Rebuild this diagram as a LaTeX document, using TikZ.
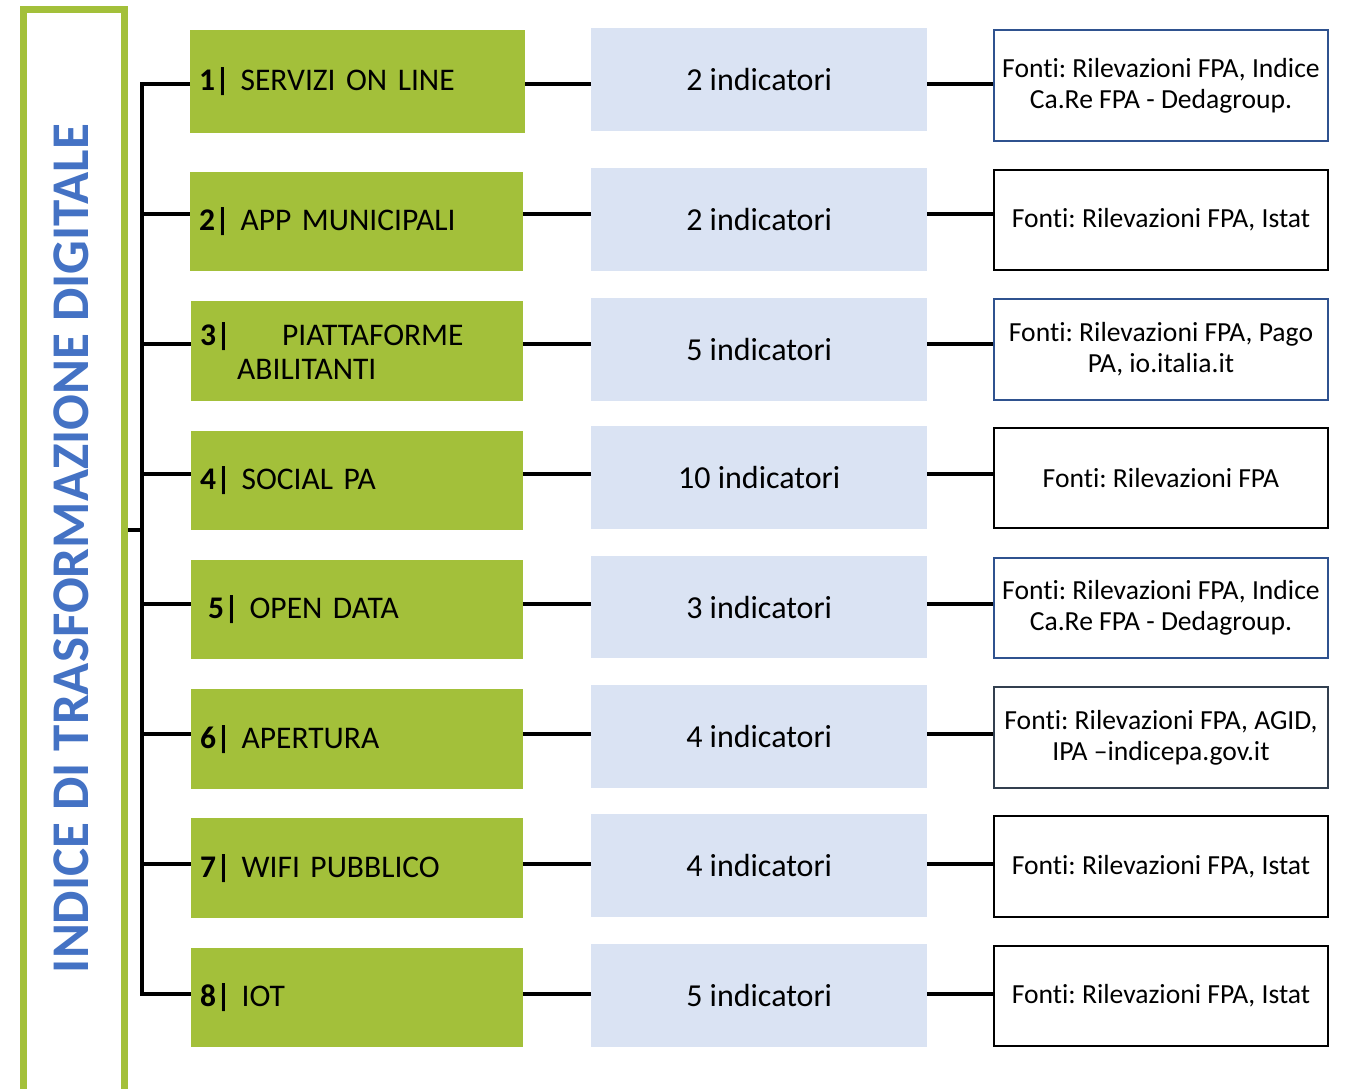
\documentclass[tikz,border=0pt]{standalone}
\usepackage{fontspec}
\setmainfont{Carlito}[Ligatures=NoCommon]
\frenchspacing
\definecolor{fgreen}{HTML}{A3C03A}
\definecolor{tblue}{HTML}{4472C4}
\definecolor{lblue}{HTML}{DAE3F3}
\definecolor{bblue}{HTML}{2F528F}
\definecolor{dgray}{HTML}{323F4F}
\newcommand{\gboxfont}{\fontsize{31.5}{34}\selectfont\spaceskip=7.2pt plus 2pt minus 1pt\relax}
\begin{document}
\begin{tikzpicture}[x=1pt,y=-1pt,
  conn/.style={line width=3.2pt,black},
  gbox/.style={rectangle,fill=fgreen,anchor=north west,inner xsep=9pt,inner ysep=0pt,
    align=left,font=\gboxfont},
  mbox/.style={rectangle,fill=lblue,anchor=north west,inner sep=0pt,align=center,
    minimum width=336pt,font=\fontsize{32}{34}\selectfont},
  rbox/.style={rectangle,draw=black,line width=2pt,fill=white,anchor=north west,inner sep=0pt,
    align=center,minimum width=334pt,font=\fontsize{27.6}{31}\selectfont},
]
\clip (0,0) rectangle (1345,1089);
\fill[white] (0,0) rectangle (1345,1089);

% green boxes
\node[gbox,minimum width=335pt,text width=317pt,minimum height=103pt] (g1) at (190,30) {\textbf{1|} SERVIZI ON LINE};
\node[gbox,minimum width=333pt,text width=315pt,minimum height=99pt] (g2) at (190,172) {\textbf{2|} APP MUNICIPALI};
\node[gbox,minimum width=332pt,text width=314pt,minimum height=100pt] (g3) at (191,301) {\makebox[37pt][l]{\textbf{3|}}\hspace{45pt}PIATTAFORME\\\hspace*{37pt}ABILITANTI};
\node[gbox,minimum width=332pt,text width=314pt,minimum height=99pt] (g4) at (191,431) {\textbf{4|} SOCIAL PA};
\node[gbox,minimum width=332pt,text width=314pt,minimum height=99pt] (g5) at (191,560) {\hspace*{8pt}\textbf{5|} OPEN DATA};
\node[gbox,minimum width=332pt,text width=314pt,minimum height=100pt] (g6) at (191,689) {\textbf{6|} APERTURA};
\node[gbox,minimum width=332pt,text width=314pt,minimum height=100pt] (g7) at (191,818) {\textbf{7|} WIFI PUBBLICO};
\node[gbox,minimum width=332pt,text width=314pt,minimum height=99pt] (g8) at (191,948) {\textbf{8|} IOT};

% middle boxes
\node[mbox,minimum height=103pt] (m1) at (591,28) {2 indicatori};
\node[mbox,minimum height=103pt] (m2) at (591,168) {2 indicatori};
\node[mbox,minimum height=103pt] (m3) at (591,298) {5 indicatori};
\node[mbox,minimum height=103pt] (m4) at (591,426) {10 indicatori};
\node[mbox,minimum height=102pt] (m5) at (591,556) {3 indicatori};
\node[mbox,minimum height=103pt] (m6) at (591,685) {4 indicatori};
\node[mbox,minimum height=103pt] (m7) at (591,814) {4 indicatori};
\node[mbox,minimum height=103pt] (m8) at (591,944) {5 indicatori};

% right boxes
\node[rbox,draw=bblue,minimum height=111pt] (s1) at (993,29) {Fonti: Rilevazioni FPA, Indice\\Ca.Re FPA - Dedagroup.};
\node[rbox,minimum height=100pt] (s2) at (993,169) {Fonti: Rilevazioni FPA, Istat};
\node[rbox,draw=bblue,minimum height=101pt] (s3) at (993,298) {Fonti: Rilevazioni FPA, Pago\\PA, io.italia.it};
\node[rbox,minimum height=100pt] (s4) at (993,427) {Fonti: Rilevazioni FPA};
\node[rbox,draw=bblue,minimum height=100pt] (s5) at (993,557) {Fonti: Rilevazioni FPA, Indice\\Ca.Re FPA - Dedagroup.};
\node[rbox,draw=dgray,minimum height=101pt] (s6) at (993,686) {Fonti: Rilevazioni FPA, AGID,\\IPA --indicepa.gov.it};
\node[rbox,minimum height=101pt] (s7) at (993,815) {Fonti: Rilevazioni FPA, Istat};
\node[rbox,minimum height=100pt] (s8) at (993,945) {Fonti: Rilevazioni FPA, Istat};

% row levels
\coordinate (r1) at (0,84);
\coordinate (r2) at (0,214);
\coordinate (r3) at (0,344);
\coordinate (r4) at (0,474);
\coordinate (r5) at (0,604);
\coordinate (r6) at (0,734);
\coordinate (r7) at (0,864);
\coordinate (r8) at (0,994);
\coordinate (bx) at (142,0);
\coordinate (root) at (142,530);

% frame and title
\draw[conn] (125,530) -- (root);
\node[draw=fgreen,line width=6.5pt,minimum width=101pt,minimum height=1100pt,anchor=north west,inner sep=0pt] (frame) at (20,6.5) {};
\node[rotate=90,text=tblue,font=\bfseries\fontsize{53}{60}\selectfont,inner sep=0pt] (title) at (71,548.5) {INDICE DI TRASFORMAZIONE DIGITALE};

% bracket
\draw[conn,line join=miter] (g1.west|-r1) -- (bx|-r1) -- (bx|-r8) -- (g8.west|-r8);
\foreach \i in {2,...,7}{\draw[conn] (bx|-r\i) -- (g\i.west|-r\i);}

% connectors
\foreach \i in {1,...,8}{
  \draw[conn] (g\i.east|-r\i) -- (m\i.west|-r\i);
  \draw[conn] (m\i.east|-r\i) -- (s\i.west|-r\i);
}
\end{tikzpicture}
\end{document}
